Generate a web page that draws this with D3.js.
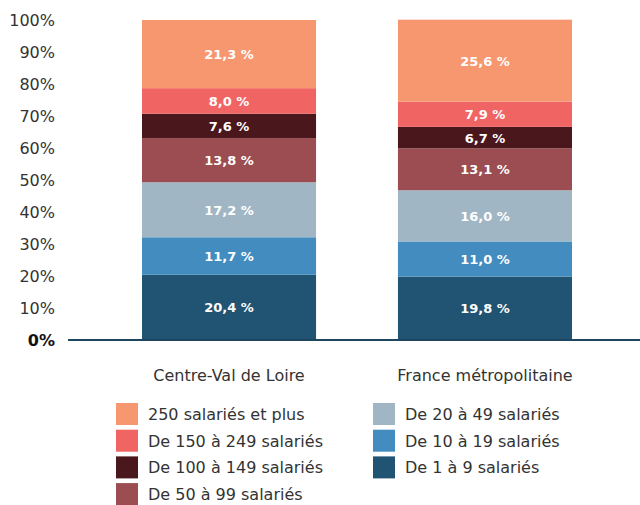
<!DOCTYPE html>
<html>
<head>
<meta charset="utf-8">
<script src="https://cdn.jsdelivr.net/npm/d3@7"></script>
<style>
  body { margin: 0; background: #fff; }
  text { font-family: "DejaVu Sans", "Noto Sans", sans-serif; }
</style>
</head>
<body>
<div id="app"></div>
<script>
// categories (bars)
const regions = ['Centre-Val de Loire', 'France métropolitaine']
// series, bottom to top
const sizes = ['De 1 à 9 salariés', 'De 10 à 19 salariés', 'De 20 à 49 salariés',
  'De 50 à 99 salariés', 'De 100 à 149 salariés', 'De 150 à 249 salariés', '250 salariés et plus']
const centreVals = [20.4, 11.7, 17.2, 13.8, 7.6, 8.0, 21.3]
const franceVals = [19.8, 11.0, 16.0, 13.1, 6.7, 7.9, 25.6]
const yTicks = [0, 10, 20, 30, 40, 50, 60, 70, 80, 90, 100]
const colors = ['#215372', '#428cc0', '#a0b6c4', '#9b4d51', '#4a171c', '#f06464', '#f7976f']

const W = 640, H = 505
const svg = d3.select('#app').append('svg').attr('width', W).attr('height', H)

const rows = regions.map((r, i) => {
  const o = { region: r }
  sizes.forEach((s, j) => { o[s] = (i === 0 ? centreVals : franceVals)[j] })
  return o
})
const stack = d3.stack().keys(sizes)
const series = stack(rows)

const x = d3.scaleBand().domain(regions).range([142, 572]).paddingInner(0.32).paddingOuter(0)
const y = d3.scaleLinear().domain([0, 100]).range([340, 20])
const color = d3.scaleOrdinal().domain(sizes).range(colors)

const fmt = v => d3.format('.1f')(v).replace('.', ',') + ' %'

// bars
const layer = svg.append('g').selectAll('g').data(series).enter().append('g')
  .attr('fill', d => color(d.key))
layer.selectAll('rect').data(d => d).enter().append('rect')
  .attr('x', d => x(d.data.region))
  .attr('width', x.bandwidth())
  .attr('y', d => y(d[1]))
  .attr('height', d => y(d[0]) - y(d[1]))

// value labels
layer.selectAll('text').data(d => d).enter().append('text')
  .attr('x', d => x(d.data.region) + x.bandwidth() / 2)
  .attr('y', d => (y(d[0]) + y(d[1])) / 2 + 5)
  .attr('text-anchor', 'middle')
  .attr('fill', '#fff')
  .attr('font-weight', 'bold')
  .attr('font-size', 13)
  .text(d => fmt(d[1] - d[0]))

// y axis labels
svg.append('g').selectAll('text').data(yTicks).enter().append('text')
  .attr('x', 55)
  .attr('y', d => y(d) + 6)
  .attr('text-anchor', 'end')
  .attr('font-size', 16)
  .attr('font-weight', d => d === 0 ? 'bold' : 'normal')
  .attr('fill', d => d === 0 ? '#111' : '#333')
  .text(d => d + '%')

// baseline
svg.append('line')
  .attr('x1', 68).attr('x2', W)
  .attr('y1', y(0)).attr('y2', y(0))
  .attr('stroke', '#1f4661').attr('stroke-width', 2)

// x labels
svg.append('g').selectAll('text').data(regions).enter().append('text')
  .attr('x', d => x(d) + x.bandwidth() / 2)
  .attr('y', 381)
  .attr('text-anchor', 'middle')
  .attr('font-size', 16)
  .attr('fill', '#333')
  .text(d => d)

// legend
const legendOrder = ['250 salariés et plus', 'De 150 à 249 salariés', 'De 100 à 149 salariés',
  'De 50 à 99 salariés', 'De 20 à 49 salariés', 'De 10 à 19 salariés', 'De 1 à 9 salariés']
const leg = svg.append('g').selectAll('g').data(legendOrder).enter().append('g')
  .attr('transform', (d, i) => {
    const col = i < 4 ? 0 : 1, row = i < 4 ? i : i - 4
    return `translate(${col === 0 ? 116 : 373},${403 + row * 26.7})`
  })
leg.append('rect').attr('width', 22).attr('height', 22).attr('fill', d => color(d))
leg.append('text').attr('x', 32).attr('y', 17).attr('font-size', 16).attr('fill', '#333').text(d => d)
</script>
</body>
</html>
